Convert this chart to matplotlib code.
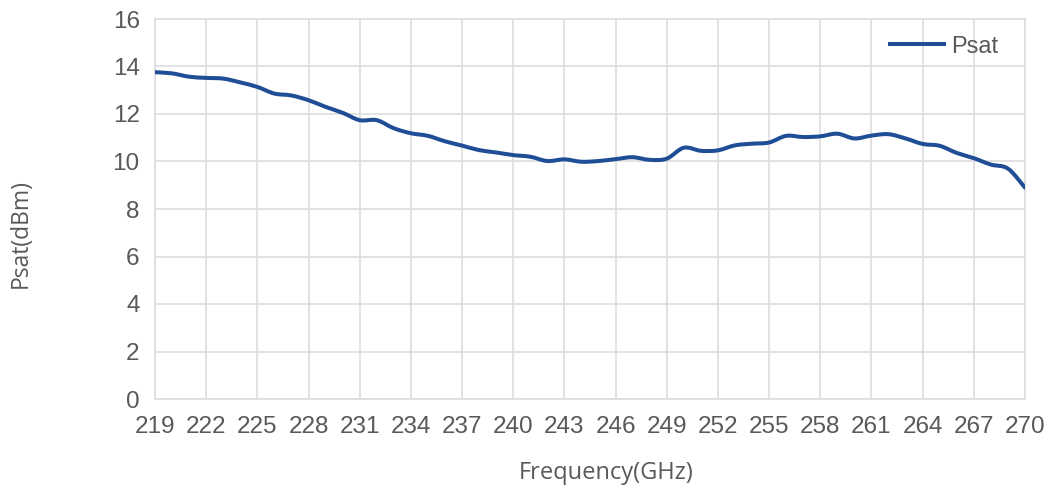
import numpy as np
import matplotlib
matplotlib.use('Agg')
import matplotlib.pyplot as plt
from matplotlib.path import Path
from matplotlib.patches import PathPatch
from matplotlib.lines import Line2D


# Dati (Psat in dBm per ogni GHz)
freq = list(range(219, 271))
psat = [13.76, 13.71, 13.57, 13.52, 13.49, 13.33, 13.14, 12.86, 12.78, 12.58,
        12.30, 12.05, 11.74, 11.74, 11.40, 11.19, 11.08, 10.85, 10.67, 10.48,
        10.38, 10.27, 10.20, 10.02, 10.09, 9.99, 10.02, 10.10, 10.18, 10.07,
        10.12, 10.58, 10.45, 10.47, 10.68, 10.75, 10.80, 11.08, 11.03, 11.06,
        11.17, 10.97, 11.09, 11.15, 10.97, 10.74, 10.66, 10.36, 10.14, 9.87,
        9.70, 8.90]
xticks = list(range(219, 271, 3))
yticks = list(range(0, 17, 2))

line_color = '#1F4E96'
grid_color = '#DDDDDD'
text_color = '#595959'
tick_font = 'Liberation Sans'
label_font = 'Open Sans'


# Linea smussata tipo Excel (curve di Bezier dai punti dati)
def smooth_path(x, y, t=1/6):
    x = np.asarray(x, float); y = np.asarray(y, float)
    verts = [(x[0], y[0])]
    codes = [Path.MOVETO]
    n = len(x)
    for i in range(n - 1):
        x0, y0 = (x[i - 1], y[i - 1]) if i > 0 else (x[i], y[i])
        x3, y3 = (x[i + 2], y[i + 2]) if i + 2 < n else (x[i + 1], y[i + 1])
        c1 = (x[i] + (x[i + 1] - x0) * t, y[i] + (y[i + 1] - y0) * t)
        c2 = (x[i + 1] - (x3 - x[i]) * t, y[i + 1] - (y3 - y[i]) * t)
        verts += [c1, c2, (x[i + 1], y[i + 1])]
        codes += [Path.CURVE4] * 3
    return Path(verts, codes)


fig = plt.figure(figsize=(10.55, 4.9), dpi=100)
ax = fig.add_axes([155/1055, 1 - 399/490, (1025 - 155)/1055, (399 - 19)/490])

patch = PathPatch(smooth_path(freq, psat), facecolor='none', edgecolor=line_color,
                  lw=2.9, capstyle='round', joinstyle='round', zorder=3)
ax.add_patch(patch)

ax.set_xlim(219, 270); ax.set_ylim(0, 16)
ax.set_xticks(xticks); ax.set_yticks(yticks)
ax.grid(True, color=grid_color, lw=1.2)
ax.set_axisbelow(True)
for s in ax.spines.values():
    s.set_color(grid_color); s.set_linewidth(1.2)
ax.tick_params(length=0, labelsize=17.5, labelcolor=text_color)
ax.tick_params(axis='x', pad=12)
ax.tick_params(axis='y', pad=11)
for lab in ax.get_xticklabels() + ax.get_yticklabels():
    lab.set_fontfamily(tick_font)

ax.set_xlabel('Frequency(GHz)', fontsize=17, color=text_color, family=label_font)
ax.set_ylabel('Psat(dBm)', fontsize=16.5, color=text_color, family=label_font)
ax.xaxis.set_label_coords(0.5 + (606 - 590) / 870, -0.163)
ax.yaxis.set_label_coords(-0.141, 0.4355)

handle = Line2D([], [], color=line_color, lw=2.9)
leg = ax.legend([handle], ['Psat'], loc='upper right', frameon=False,
                prop={'family': tick_font, 'size': 17}, handlelength=2.3,
                handletextpad=0.3, borderaxespad=0.3, bbox_to_anchor=(0.988, 1.0))
for t in leg.get_texts():
    t.set_color(text_color)

fig.savefig('out.png', dpi=100, facecolor='white')
